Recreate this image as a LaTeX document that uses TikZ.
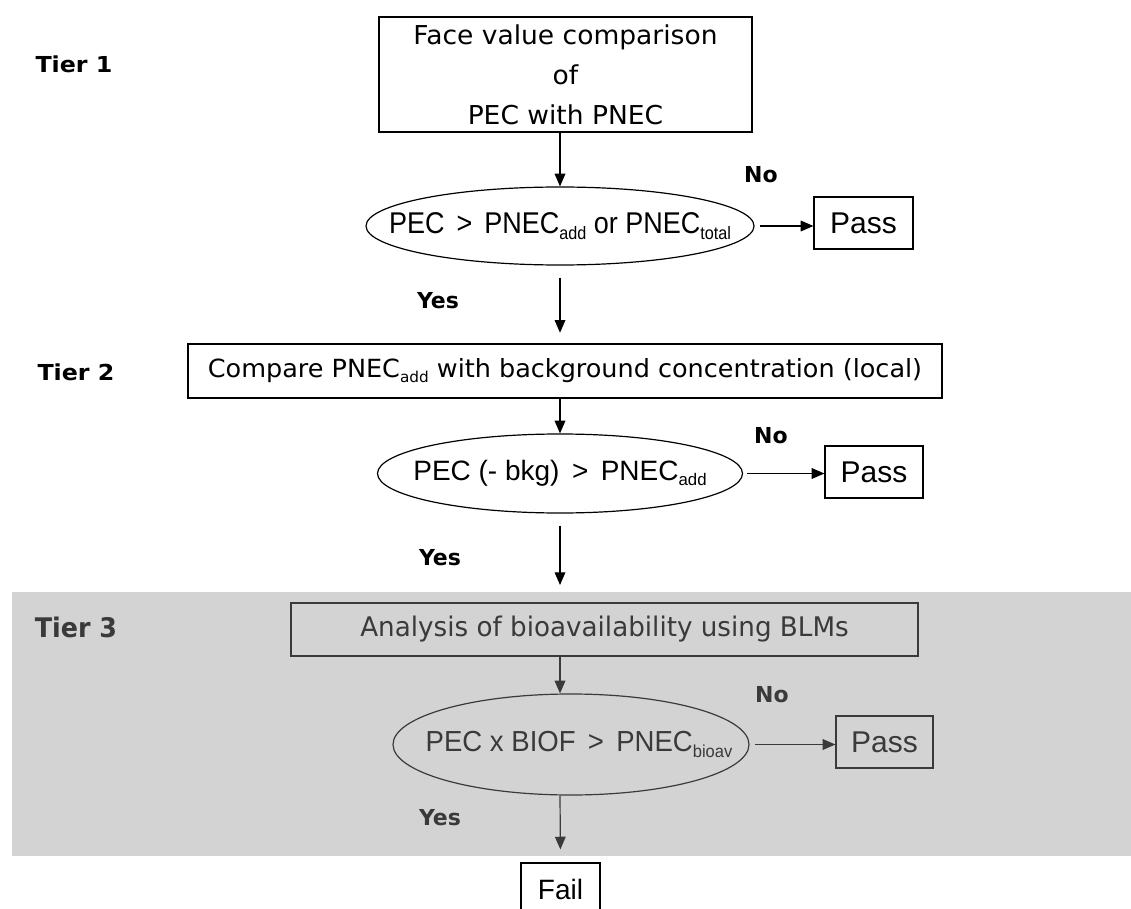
\documentclass[tikz,border=0pt]{standalone}
\usepackage{fontspec}
\setmainfont{Liberation Sans}
\newfontfamily\tah{DejaVu Sans}
\usepackage{graphicx}
\usetikzlibrary{shapes.geometric,arrows.meta}
\definecolor{band}{RGB}{211,211,211}
\definecolor{dk}{RGB}{58,58,58}
\newcommand\sx[2]{\scalebox{#1}[1]{#2}}
\newcommand\sbs[1]{\raisebox{-0.35ex}{\scalebox{0.6}{#1}}}
\tikzset{
  rbox/.style={draw, rectangle, line width=0.9pt, inner sep=0pt},
  oval/.style={draw, ellipse, line width=0.9pt, inner sep=0pt},
  wh/.style 2 args={minimum width={#1*0.75pt}, minimum height={#2*0.75pt}},
  arr/.style={line width=0.9pt, -{Triangle[length=9.5pt,width=8pt]}},
  lab/.style={anchor=base, inner sep=0pt, font=\tah\bfseries\fontsize{16.5pt}{18pt}\selectfont},
  small/.style={anchor=base, inner sep=0pt, font=\tah\bfseries\fontsize{16.5pt}{18pt}\selectfont},
  boxtxt/.style={font=\tah\fontsize{19.5pt}{30pt}\selectfont},
  ovtxt/.style={font=\fontsize{#1}{24pt}\selectfont},
}
\begin{document}
\begin{tikzpicture}[x=0.75pt,y=-0.75pt]
\useasboundingbox (0,0) rectangle (1131,909);
\clip (0,0) rectangle (1131,909);
\fill[band] (12,592) rectangle (1131,856);
\coordinate (ax) at (560,0);

% Tier 1
\node[lab] (t1) at (74,73) {\sx{1.08}{Tier 1}};
\node[rbox, wh={373}{115}, align=center, boxtxt] (b1) at (565.5,74.5)
  {\sx{1.02}{Face value comparison}\\\sx{1.02}{of}\\\sx{1.02}{PEC with PNEC}};
\node[oval, wh={388}{78}, ovtxt=22.5pt] (e1) at (560,226)
  {\makebox[0pt]{\sx{0.9}{PEC \,>\, PNEC\sbs{add} or PNEC\sbs{total}}}};
\node[rbox, wh={99}{52}, ovtxt=22.5pt] (p1) at (863.5,223) {Pass};
\node[small] (n1) at (761,183) {No};
\node[small] (y1) at (438,308) {Yes};
\draw[arr] (b1.south -| ax) -- (e1.north);
\draw[arr, shorten <=4pt] (e1.east) -- (e1.east -| p1.west);

% Tier 2
\node[lab] (t2) at (76,380) {\sx{1.08}{Tier 2}};
\node[rbox, wh={754}{54}, font=\tah\fontsize{18.75pt}{20pt}\selectfont] (b2) at (565,371)
  {\sx{1.02}{Compare PNEC\sbs{add} with background concentration (local)}};
\node[oval, wh={365}{79}, ovtxt=21pt] (e2) at (560,473.5)
  {\makebox[0pt]{PEC (- bkg) \,>\, PNEC\sbs{add}}};
\node[rbox, wh={98}{52}, ovtxt=22.5pt] (p2) at (874,472) {Pass};
\node[small] (n2) at (771,443) {No};
\node[small] (y2) at (440,565) {Yes};
\draw[arr, shorten <=9pt, shorten >=8pt] (e1.south) -- (b2.north -| e1.south);
\draw[arr] (b2.south -| ax) -- (e2.north);
\draw[arr, shorten <=3pt] (e2.east) -- (e2.east -| p2.west);
\coordinate (t3in) at (560,585);
\draw[arr, shorten <=9pt] (e2.south) -- (t3in);

% Tier 3
\begin{scope}[color=dk]
\node[lab, text=dk, font=\tah\bfseries\fontsize{20.25pt}{22pt}\selectfont] (t3) at (76,637) {\sx{0.94}{Tier 3}};
\node[rbox, draw=dk, text=dk, wh={627}{53}, font=\tah\fontsize{20.25pt}{22pt}\selectfont] (b3) at (604.5,629.5)
  {\sx{0.97}{Analysis of bioavailability using BLMs}};
\node[oval, draw=dk, text=dk, wh={356}{101}, ovtxt=21.75pt] (e3) at (571,744.5)
  {\makebox[0pt]{\hspace*{12pt}\sx{0.95}{PEC x BIOF \,>\, PNEC\sbs{bioav}}}};
\node[rbox, draw=dk, text=dk, wh={97}{52}, ovtxt=22.5pt] (p3) at (884.5,742) {Pass};
\node[small, text=dk] (n3) at (772,702) {No};
\node[small, text=dk] (y3) at (440,825) {Yes};
\draw[arr, dk] (b3.south -| ax) -- (e3.north -| ax);
\draw[arr, dk, shorten <=4pt] (e3.east) -- (e3.east -| p3.west);
\end{scope}

% Fail
\node[rbox, wh={79}{52}, ovtxt=21pt] (fl) at (560.5,889) {Fail};
\draw[arr, dk, shorten >=9.75pt] (e3.south -| ax) -- (fl.north);
\end{tikzpicture}
\end{document}
